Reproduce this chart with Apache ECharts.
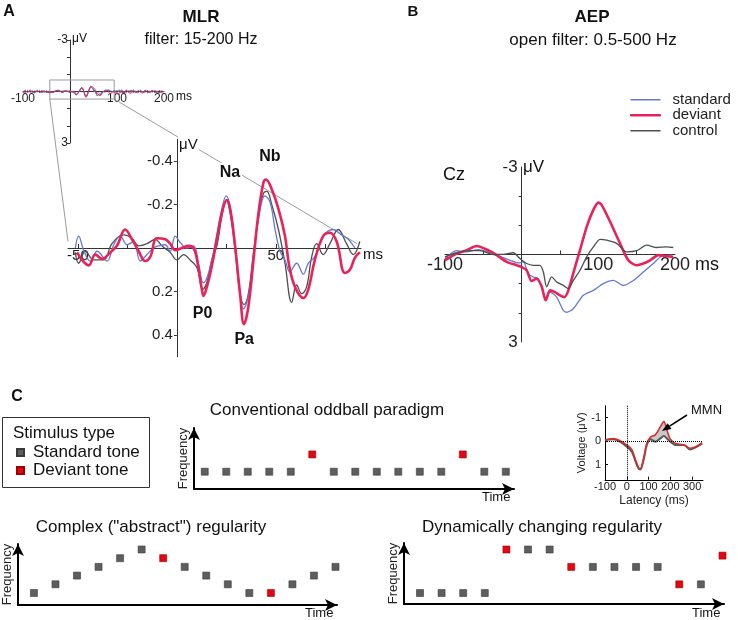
<!DOCTYPE html>
<html><head><meta charset="utf-8">
<script src="https://cdn.jsdelivr.net/npm/echarts@6/dist/echarts.min.js"></script>
<style>html,body{margin:0;padding:0;background:#fff}#c{width:738px;height:620px}</style>
</head><body><div id="c"></div>
<script>
// ---------- Panel A (MLR), main plot, latency ms / amplitude uV ----------
const mlrDevMs = [-50.4,-44.5,-41.2,-37.8,-33.6,-30.3,-26.1,-22.7,-19.3,-16,-13.4,-10.1,-5.9,-3.4,-0.8,2.5,5.9,8.4,10.1,12.6,13.4,15.1,17.6,20.2,22.7,25.2,26.9,29.4,31.9,33.9,36.1,38.7,41.2,43.7,45,47.9,51.3,54.6,56.8,59.7,63.9,66.4,69.7,73.9,77.3,80.7,84.9,87.4,89.9,92.4];
const mlrDevUv = [0.02,0.08,0.03,0.05,0.02,-0.01,-0.085,-0.04,0.015,0.06,0.04,-0.045,-0.04,-0.02,0.01,0,-0.01,0,0.05,0.19,0.22,0.18,0.085,-0.04,-0.16,-0.22,-0.18,-0.01,0.21,0.35,0.27,0.055,-0.16,-0.3,-0.315,-0.27,-0.18,-0.055,0.085,0.18,0.23,0.19,0.055,-0.055,-0.07,-0.03,0.115,0.1,0.045,0.02];
const mlrStdMs = [-51.3,-49.6,-47.1,-43.7,-40.3,-35.3,-31.9,-28.6,-25.2,-21.8,-18.5,-15.1,-11.8,-9.2,-5.9,-3.4,-0.8,1.7,5,8.4,10.9,13.4,16,19.3,22.7,24.9,26.9,29.4,31.6,33.6,36.1,38.7,41.2,44.5,47.1,49.6,52.1,54.6,57.1,60.5,63.9,66.4,69.7,73.9,79,83.2,86.6,89.9];
const mlrStdUv = [0,-0.055,0.01,0.06,0.015,0.06,-0.015,-0.055,-0.015,-0.03,0.06,0.03,0,-0.01,-0.015,0.015,-0.055,-0.025,0,-0.01,0.07,0.16,0.115,-0.02,-0.18,-0.24,-0.19,-0.01,0.18,0.28,0.22,0.04,-0.13,-0.24,-0.21,-0.085,0.015,0.055,0.11,0.07,0.12,0.07,0.04,-0.055,-0.085,-0.06,-0.04,0];
const mlrCtlMs = [-51.3,-49.6,-46.2,-42,-37,-32.8,-26.9,-22.7,-19.3,-15.1,-10.9,-7.6,-3.4,0,3.4,6.7,10.1,13.1,15.1,17.6,20.2,22.7,24.9,26.9,29.4,31.9,33.9,36.1,38.7,41.2,43.7,45.4,47.9,51.3,54.6,58,60.5,63,65.5,68.1,70.6,73.9,77.3,81.5,85.7,89.1,92.4];
const mlrCtlUv = [0.02,0.07,0.015,0.055,0.055,-0.02,-0.06,-0.045,-0.01,-0.02,-0.04,-0.01,0.02,0.055,0.03,0.055,0.09,0.19,0.16,0.055,-0.01,-0.145,-0.22,-0.16,0.01,0.21,0.26,0.21,0.02,-0.14,-0.25,-0.26,-0.2,-0.085,0.07,0.25,0.17,0.21,0.18,0.04,-0.02,0.03,-0.02,-0.085,-0.02,0.03,-0.03];
// overview inset, outside the zoomed window
const insetPreMs = [-100,-95,-90,-85,-80,-75,-70,-65,-60,-55];
const insetStdPre = [0.05,-0.08,0.06,-0.05,0.08,-0.04,0.03,-0.07,0.05,0.02];
const insetDevPre = [-0.04,0.07,-0.06,0.05,-0.03,0.08,-0.05,0.04,-0.06,0.03];
const insetCtlPre = [0.08,-0.03,0.04,-0.08,0.02,0.06,-0.06,0.05,0.03,-0.04];
const insetPostMs = [95,100,105,110,115,120,125,130,135,140,145,150,155,160,165,170,175,180,185,190,195,200];
const insetStdPost = [0.02,-0.08,0.05,-0.1,0.04,0.08,-0.06,0.03,-0.09,0.05,0.07,-0.04,0.02,-0.06,0.08,-0.03,0.05,-0.07,0.02,0.06,-0.04,0.03];
const insetDevPost = [0.05,0.12,0.15,-0.05,0.08,-0.09,0.06,0.1,-0.04,0.07,-0.06,0.04,0.09,-0.08,0.05,0.02,-0.07,0.06,-0.03,0.08,0.04,-0.02];
const insetCtlPost = [-0.05,0.06,-0.08,0.04,0.07,-0.05,0.03,-0.08,0.06,-0.02,0.05,-0.07,0.04,0.03,-0.06,0.07,-0.04,0.02,0.05,-0.06,0.03,0.01];

// ---------- Panel B (AEP) ----------
const aepDevMs = [-100,-84.8,-71.7,-58.7,-45.7,-32.6,-19.6,-6.5,0,6.5,13,19.6,26.1,31.3,37,43.5,50,55.7,60.9,69.6,76.1,84.8,93.5,100,104.3,115.2,128.3,139.1,150,158.7,167.4,178.3,189.1,197.8];
const aepDevUv = [0.2,-0.03,-0.15,-0.29,-0.17,0.02,0.25,0.37,0.43,0.54,0.91,0.83,1.1,1.57,1.23,1.29,1.4,1.46,1.23,0.43,-0.15,-0.95,-1.53,-1.78,-1.7,-1.13,-0.38,0.2,0.37,0.31,0.2,0.02,0.06,0.08];
const aepStdMs = [-100,-84.8,-71.7,-56.5,-41.3,-28.3,-15.2,-4.3,2.2,8.7,15.2,21.7,28.3,31.3,37,45.7,54.3,58.7,67.4,80.4,93.5,106.5,119.6,132.6,145.7,158.7,171.7,182.6,195.7];
const aepStdUv = [0.14,-0.13,-0.09,-0.17,-0.06,0.06,0.2,0.29,0.25,0.66,0.77,0.83,1.29,1.57,1.29,1.46,1.92,1.98,1.86,1.4,1.23,1.0,0.89,1.06,0.89,0.6,0.31,0.06,0.02];
const aepCtlMs = [-100,-84.8,-67.4,-54.3,-37,-21.7,-10.9,-2.2,6.5,15.2,23.9,28.3,32.6,39.1,45.7,54.3,60.9,67.4,76.1,84.8,93.5,102.2,110.9,123.9,137,150,163,176.1,189.1,197.8];
const aepCtlUv = [0.08,-0.06,-0.13,-0.13,0,-0.01,-0.06,0.14,0.31,0.37,0.37,0.6,1.11,0.77,0.94,1.06,1.17,0.89,0.54,0.08,-0.26,-0.52,-0.49,-0.38,-0.09,-0.13,-0.32,-0.24,-0.26,-0.24];
const legendNames = ['standard','deviant','control'];

// ---------- Panel C ----------
const seqPosition = [1,2,3,4,5,6,7,8,9,10,11,12,13,14,15];
const oddballFreq = [1,1,1,1,1,2,1,1,1,1,1,1,2,1,1];
const oddballDev  = [0,0,0,0,0,1,0,0,0,0,0,0,1,0,0];
const complexFreq = [1,2,3,4,5,6,5,4,3,2,1,1,2,3,4];
const complexDev  = [0,0,0,0,0,0,1,0,0,0,0,1,0,0,0];
const dynamicFreq = [1,1,1,1,6,6,6,4,4,4,4,4,2,2,5.3];
const dynamicDev  = [0,0,0,0,1,0,0,1,0,0,0,0,1,0,1];
const toneNames = ['Standard tone','Deviant tone'];
// MMN inset
const mmnMs  = [-100,-62,-31,0,23,38,54,62,77,92,108,131,154,170,185,200,223,262,292,323,346];
const mmnStd = [-0.04,-0.07,0.03,0.24,0.46,0.81,1.17,1.21,0.81,0.17,-0.07,0.03,-0.11,-0.21,-0.1,0.03,0.17,0.17,0.36,0.24,0.1];
const mmnDev = [-0.04,-0.11,-0.01,0.17,0.36,0.74,1.13,1.17,0.74,0.1,-0.16,-0.26,-0.6,-0.83,-0.45,-0.08,0.1,0.17,0.31,0.21,0.07];
const mmnTicksX = [-100,0,100,200,300];
const mmnTicksY = [-1,0,1];

// ---------- build ----------
const FONT = '"Liberation Sans", Arial, Helvetica, sans-serif';
const C_STD = '#6579d3', C_DEV = '#e8235a', C_CTL = '#4e4e4e';
function pairs(xs, ys){ const n=Math.min(xs.length, ys.length), o=[]; for(let i=0;i<n;i++) o.push([xs[i], ys[i]]); return o; }
function line(name, gi, data, color, width, smooth){
  return {type:'line', name, xAxisIndex:gi, yAxisIndex:gi, data, symbol:'none', smooth, silent:true,
    lineStyle:{color, width}, itemStyle:{color}};
}
function seqPoints(freq, dev, want){ const o=[]; for(let i=0;i<freq.length;i++){ if(dev[i]===want) o.push([seqPosition[i], freq[i]]);} return o; }
function sq(name, gi, data, color, border){
  return {type:'scatter', name, xAxisIndex:gi, yAxisIndex:gi, data, symbol:'rect', symbolSize:7, silent:true,
    itemStyle:{color, borderColor:border, borderWidth:0.6, opacity:1}};
}
const axC = {color:'#333', width:1};
function arrowX(gi, min, max){
  return {gridIndex:gi, type:'value', min, max, axisLine:{onZero:false, lineStyle:{color:'#000', width:2}, symbol:['none','arrow'], symbolSize:[9,12]},
    axisTick:{show:false}, axisLabel:{show:false}, splitLine:{show:false}};
}
function arrowY(gi, min, max){
  return {gridIndex:gi, type:'value', min, max, name:'Frequency', nameLocation:'middle', nameGap:4, nameRotate:90,
    nameTextStyle:{fontSize:13, color:'#222', fontFamily:FONT},
    axisLine:{onZero:false, lineStyle:{color:'#000', width:2}, symbol:['none','arrow'], symbolSize:[9,12]},
    axisTick:{show:false}, axisLabel:{show:false}, splitLine:{show:false}};
}
// grid boxes for the three waveform plots; axes are shifted onto the zero lines
const grids = [
  {left:23, top:40, width:141, height:103},
  {left:68, top:139.25, width:293, height:217.5},
  {left:445, top:167, width:230, height:175},
  {left:194, top:428, width:320, height:61},
  {left:17, top:544, width:320, height:61},
  {left:404, top:543, width:320, height:61},
  {left:605, top:405.75, width:98, height:74}
];
const xr = [[-100,200],[-55,93],[-100,200]];
const yr = [[-3,3],[-0.5,0.5],[-3,3]];
function yOff(gi){ const g=grids[gi], r=xr[gi]; return -g.width*(0-r[0])/(r[1]-r[0]); }
function xOff(gi){ const g=grids[gi], r=yr[gi]; return -g.height*(r[1]-0)/(r[1]-r[0]); }

const insetStd = pairs(insetPreMs, insetStdPre).concat(pairs(mlrStdMs, mlrStdUv), pairs(insetPostMs, insetStdPost));
const insetDev = pairs(insetPreMs, insetDevPre).concat(pairs(mlrDevMs, mlrDevUv), pairs(insetPostMs, insetDevPost));
const insetCtl = pairs(insetPreMs, insetCtlPre).concat(pairs(mlrCtlMs, mlrCtlUv), pairs(insetPostMs, insetCtlPost));

const option = {
  animation:false, backgroundColor:'#fff', textStyle:{fontFamily:FONT},
  grid:grids,
  xAxis:[
    {gridIndex:0, type:'value', min:xr[0][0], max:xr[0][1], offset:xOff(0), axisLine:{onZero:false, lineStyle:axC}, axisTick:{show:false},
      axisLabel:{customValues:[-100,100,200], fontSize:12, color:'#222', margin:1}, splitLine:{show:false}},
    {gridIndex:1, type:'value', min:xr[1][0], max:xr[1][1], offset:xOff(1), axisLine:{onZero:false, lineStyle:axC},
      axisTick:{customValues:[-50,-25,25,50,75], inside:true, length:4, lineStyle:axC},
      axisLabel:{customValues:[-50,50], fontSize:15, color:'#222', margin:0}, splitLine:{show:false}},
    {gridIndex:2, type:'value', min:xr[2][0], max:xr[2][1], offset:xOff(2), axisLine:{onZero:false, lineStyle:axC},
      axisTick:{customValues:[-50,50,150], inside:true, length:4, lineStyle:axC},
      axisLabel:{customValues:[-100,100,200], fontSize:18, color:'#222', margin:2}, splitLine:{show:false}},
    arrowX(3, 0.5, 15.38),
    arrowX(4, 0.26, 15.07),
    arrowX(5, 0.26, 15.07),
    {gridIndex:6, type:'value', min:-100, max:350, name:'Latency (ms)', nameLocation:'middle', nameGap:15,
      nameTextStyle:{fontSize:12, color:'#222'},
      axisLine:{onZero:false, lineStyle:{color:'#000', width:1}},
      axisTick:{customValues:mmnTicksX, inside:true, length:3, lineStyle:{color:'#000'}},
      axisLabel:{customValues:mmnTicksX, fontSize:11, color:'#222', margin:2}, splitLine:{show:false}}
  ],
  yAxis:[
    {gridIndex:0, type:'value', min:yr[0][0], max:yr[0][1], inverse:true, offset:yOff(0), axisLine:{onZero:false, lineStyle:axC},
      axisTick:{customValues:[-3,-2,-1,1,2,3], length:3, lineStyle:axC},
      axisLabel:{customValues:[-3,3], fontSize:12, color:'#222', margin:2}, splitLine:{show:false}},
    {gridIndex:1, type:'value', min:yr[1][0], max:yr[1][1], inverse:true, offset:yOff(1), axisLine:{onZero:false, lineStyle:axC},
      axisTick:{customValues:[-0.4,-0.2,0.2,0.4], length:3, lineStyle:axC},
      axisLabel:{customValues:[-0.4,-0.2,0.2,0.4], fontSize:15, color:'#222', margin:4}, splitLine:{show:false}},
    {gridIndex:2, type:'value', min:yr[2][0], max:yr[2][1], inverse:true, offset:yOff(2), axisLine:{onZero:false, lineStyle:axC},
      axisTick:{customValues:[-2,-1,1,2], length:3, lineStyle:axC},
      axisLabel:{customValues:[-3,3], fontSize:17, color:'#222', margin:4}, splitLine:{show:false}},
    arrowY(3, 0, 3.53),
    arrowY(4, -0.38, 6.63),
    arrowY(5, -0.26, 6.75),
    {gridIndex:6, type:'value', min:-1.5, max:1.65, inverse:true, name:'Voltage (μV)', nameLocation:'middle', nameGap:17, nameRotate:90,
      nameTextStyle:{fontSize:11, color:'#222'},
      axisLine:{onZero:false, lineStyle:{color:'#000', width:1}},
      axisTick:{customValues:mmnTicksY, inside:true, length:3, lineStyle:{color:'#000'}},
      axisLabel:{customValues:mmnTicksY, fontSize:11, color:'#222', margin:4}, splitLine:{show:false}}
  ],
  legend:[
    {data:[
        {name:'standard', icon:'rect', itemStyle:{color:C_STD, borderColor:C_STD, borderWidth:0}},
        {name:'deviant', icon:'rect', itemStyle:{color:C_DEV, borderColor:C_DEV, borderWidth:1}},
        {name:'control', icon:'rect', itemStyle:{color:C_CTL, borderColor:C_CTL, borderWidth:0}}],
      orient:'vertical', left:630, top:92, padding:0, itemWidth:30, itemHeight:1.5, itemGap:0,
      selectedMode:false, textStyle:{fontSize:15, color:'#222', lineHeight:15.5, padding:[0,0,0,7]}},
    {data:toneNames, orient:'vertical', left:16, top:444, padding:0, itemWidth:7, itemHeight:7, itemGap:1,
      selectedMode:false, textStyle:{fontSize:17, color:'#111', lineHeight:17, padding:[0,0,0,4]}}
  ],
  series:[
    line('standard', 2, pairs(aepStdMs, aepStdUv), C_STD, 1.3, 0.25),
    line('deviant', 2, pairs(aepDevMs, aepDevUv), C_DEV, 2.6, 0.25),
    line('control', 2, pairs(aepCtlMs, aepCtlUv), C_CTL, 1.3, 0.25),
    Object.assign(line('control', 0, insetCtl, C_CTL, 1, 0.3), {
      markArea:{silent:true, itemStyle:{color:'rgba(0,0,0,0)', borderColor:'#9a9a9a', borderWidth:1},
        data:[[{coord:[-43,-0.67]},{coord:[94,0.44]}]]}}),
    line('standard', 0, insetStd, C_STD, 1, 0.3),
    line('deviant', 0, insetDev, C_DEV, 1, 0.3),
    line('control', 1, pairs(mlrCtlMs, mlrCtlUv), C_CTL, 1.3, 0.4),
    line('standard', 1, pairs(mlrStdMs, mlrStdUv), C_STD, 1.3, 0.4),
    line('deviant', 1, pairs(mlrDevMs, mlrDevUv), C_DEV, 2.6, 0.4),
    sq('Standard tone', 3, seqPoints(oddballFreq, oddballDev, 0), '#5e5e5e', '#3a3a3a'),
    sq('Deviant tone', 3, seqPoints(oddballFreq, oddballDev, 1), '#e30613', '#a00000'),
    sq('Standard tone', 4, seqPoints(complexFreq, complexDev, 0), '#5e5e5e', '#3a3a3a'),
    sq('Deviant tone', 4, seqPoints(complexFreq, complexDev, 1), '#e30613', '#a00000'),
    sq('Standard tone', 5, seqPoints(dynamicFreq, dynamicDev, 0), '#5e5e5e', '#3a3a3a'),
    sq('Deviant tone', 5, seqPoints(dynamicFreq, dynamicDev, 1), '#e30613', '#a00000'),
    {type:'custom', xAxisIndex:6, yAxisIndex:6, data:[[0,0]], z:1, silent:true, clip:false,
      renderItem:function(params, api){
        const pts=[];
        for(let i=0;i<mmnMs.length;i++){ if(mmnMs[i]>=92 && mmnMs[i]<=223) pts.push(api.coord([mmnMs[i], mmnDev[i]])); }
        for(let i=mmnMs.length-1;i>=0;i--){ if(mmnMs[i]>=92 && mmnMs[i]<=223) pts.push(api.coord([mmnMs[i], mmnStd[i]])); }
        return {type:'polygon', shape:{points:pts}, style:{fill:'#c8c8c8', stroke:'#8a8a8a', lineWidth:0.6}};
      }},
    Object.assign(line('mmnStd', 6, pairs(mmnMs, mmnStd), '#585858', 2, 0.35), {
      markLine:{silent:true, symbol:['none','none'], label:{show:false},
        lineStyle:{type:'dotted', color:'#000', width:1}, data:[{xAxis:0},{yAxis:0}]}}),
    line('mmnDev', 6, pairs(mmnMs, mmnDev), '#e02a2a', 1.5, 0.35)
  ]
};

const chart = echarts.init(document.getElementById('c'), null, {renderer:'canvas'});
chart.setOption(option);

function T(x, y, text, o){
  return {type:'text', x, y, z:100, silent:true,
    style:Object.assign({text, fontSize:16, fontFamily:FONT, fill:'#111', align:'left', verticalAlign:'middle'}, o||{})};
}
const px = (gi, pt) => chart.convertToPixel({gridIndex:gi}, pt);
const r1 = px(0,[-43,0.44]), r2 = px(0,[94,0.44]);
const e1 = px(1,[-55,-0.03]), e2 = px(1,[91,-0.02]);
const na = px(1,[26.8,-0.345]), nb = px(1,[47,-0.42]), p0 = px(1,[13,0.3]), pa = px(1,[34,0.42]);
const tail = [687,415], tip = [662,431];
const dx = tip[0]-tail[0], dy = tip[1]-tail[1], L = Math.hypot(dx,dy), ux = dx/L, uy = dy/L;
const bx = tip[0]-9*ux, by = tip[1]-9*uy;
const g = [
  {type:'line', z:1, silent:true, shape:{x1:r1[0], y1:r1[1], x2:e1[0], y2:e1[1]}, style:{stroke:'#9a9a9a', lineWidth:1}},
  {type:'line', z:1, silent:true, shape:{x1:r2[0], y1:r2[1], x2:e2[0], y2:e2[1]}, style:{stroke:'#9a9a9a', lineWidth:1}},
  T(9,12,'A',{fontWeight:'bold', align:'center', fontSize:16}),
  T(201,17,'MLR',{fontWeight:'bold', align:'center', fontSize:17}),
  T(201,40,'filter: 15-200 Hz',{align:'center', fontSize:16}),
  T(72,39,'μV',{fontSize:12}),
  T(176,97,'ms',{fontSize:12}),
  T(178,145,'μV',{fontSize:15, backgroundColor:'#fff', padding:[1,1]}),
  T(363,255,'ms',{fontSize:15}),
  T(na[0],na[1],'Na',{fontWeight:'bold', align:'center', backgroundColor:'#fff', padding:[2,2]}),
  T(nb[0],nb[1],'Nb',{fontWeight:'bold', align:'center'}),
  T(p0[0],p0[1],'P0',{fontWeight:'bold', align:'center'}),
  T(pa[0],pa[1],'Pa',{fontWeight:'bold', align:'center'}),
  T(413,12,'B',{fontWeight:'bold', align:'center', fontSize:15}),
  T(592,17,'AEP',{fontWeight:'bold', align:'center', fontSize:17}),
  T(593,40,'open filter: 0.5-500 Hz',{align:'center', fontSize:17}),
  T(443,175,'Cz',{fontSize:18}),
  T(523,167,'μV',{fontSize:17}),
  T(695,265,'ms',{fontSize:18}),
  T(17,397,'C',{fontWeight:'bold', align:'center', fontSize:16}),
  {type:'rect', z:50, silent:true, shape:{x:2.5, y:417.5, width:147, height:70}, style:{fill:'none', stroke:'#333', lineWidth:1}},
  T(13,433,'Stimulus type',{fontSize:17}),
  T(327,410,'Conventional oddball paradigm',{align:'center', fontSize:17}),
  T(151,527,'Complex ("abstract") regularity',{align:'center', fontSize:17}),
  T(542,527,'Dynamically changing regularity',{align:'center', fontSize:17}),
  T(482,497,'Time',{fontSize:13}),
  T(305,613,'Time',{fontSize:13}),
  T(692,613,'Time',{fontSize:13}),
  T(691,410,'MMN',{fontSize:13}),
  {type:'line', z:60, silent:true, shape:{x1:tail[0], y1:tail[1], x2:bx, y2:by}, style:{stroke:'#000', lineWidth:1.5}},
  {type:'polygon', z:60, silent:true, shape:{points:[[tip[0],tip[1]],[bx-3.5*uy, by+3.5*ux],[bx+3.5*uy, by-3.5*ux]]}, style:{fill:'#000'}}
];
chart.setOption({graphic:g});
</script></body></html>
